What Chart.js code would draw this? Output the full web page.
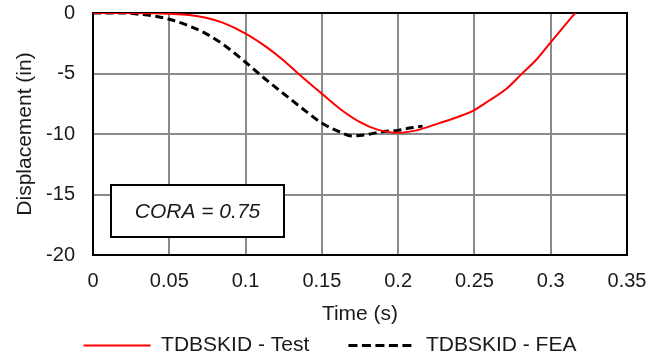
<!DOCTYPE html>
<html>
<head>
<meta charset="utf-8">
<script src="https://cdn.jsdelivr.net/npm/chart.js@4.4.1/dist/chart.umd.min.js"></script>
<style>
  html, body { margin: 0; padding: 0; background: #fff; }
  #wrap { width: 660px; height: 355px; }
</style>
</head>
<body>
<div id="wrap"><canvas id="chart" width="660" height="355"></canvas></div>
<script>
// values
var testTime = [0, 0.02, 0.04, 0.05, 0.063, 0.074, 0.085, 0.1, 0.114, 0.125, 0.135, 0.149, 0.162, 0.175, 0.186, 0.2, 0.212, 0.227, 0.24, 0.249, 0.26, 0.271, 0.281, 0.291, 0.299, 0.308, 0.316];
var testDisp = [0, 0, -0.02, -0.06, -0.16, -0.39, -0.8, -1.7, -2.84, -3.93, -5.06, -6.56, -7.93, -9.02, -9.62, -9.9, -9.7, -9.1, -8.55, -8.09, -7.21, -6.26, -5.03, -3.8, -2.57, -1.2, 0];

var feaTime = [0, 0.02, 0.031, 0.04, 0.05, 0.063, 0.074, 0.085, 0.1, 0.114, 0.125, 0.14, 0.149, 0.162, 0.17, 0.179, 0.19, 0.2, 0.2075, 0.216];
var feaDisp = [0, 0, -0.11, -0.25, -0.52, -1.07, -1.7, -2.57, -4.07, -5.57, -6.67, -8.17, -9.02, -9.84, -10.16, -10.06, -9.79, -9.7, -9.51, -9.35];

var seriesNames = ["TDBSKID - Test", "TDBSKID - FEA"];
var xTickLabels = ["0", "0.05", "0.1", "0.15", "0.2", "0.25", "0.3", "0.35"];
var yTickLabels = ["-20", "-15", "-10", "-5", "0"];
var coraText = "CORA = 0.75";

function toPoints(xs, ys) {
    return xs.map(function (x, i) { return { x: x, y: ys[i] }; });
}

var textColor = "#1a1a1a";
var gridColor = "#8a8a8a";

// black frame round the plot area
var framePlugin = {
    id: "frame",
    beforeDatasetsDraw: function (chart) {
        var a = chart.chartArea, ctx = chart.ctx;
        ctx.save();
        ctx.strokeStyle = "#000";
        ctx.lineWidth = 2;
        ctx.strokeRect(a.left, a.top, a.right - a.left, a.bottom - a.top);
        ctx.restore();
    }
};

// the CORA note box
var coraPlugin = {
    id: "cora",
    afterDatasetsDraw: function (chart) {
        var x = chart.scales.x, y = chart.scales.y, ctx = chart.ctx;
        var l = Math.round(x.getPixelForValue(0.0117));
        var r = Math.round(x.getPixelForValue(0.1253));
        var t = Math.round(y.getPixelForValue(-14.2));
        var b = Math.round(y.getPixelForValue(-18.55));
        ctx.save();
        ctx.fillStyle = "#fff";
        ctx.fillRect(l, t, r - l, b - t);
        ctx.strokeStyle = "#000";
        ctx.lineWidth = 2;
        ctx.strokeRect(l, t, r - l, b - t);
        ctx.fillStyle = textColor;
        ctx.font = "italic 21px 'Liberation Sans', Arial, sans-serif";
        ctx.textAlign = "center";
        ctx.textBaseline = "middle";
        ctx.fillText(coraText, (l + r) / 2, (t + b) / 2 + 1);
        ctx.restore();
    }
};

var ctx = document.getElementById("chart").getContext("2d");
new Chart(ctx, {
    type: "scatter",
    data: {
        datasets: [
            {
                label: seriesNames[0],
                data: toPoints(testTime, testDisp),
                showLine: true,
                borderColor: "#ff0000",
                backgroundColor: "#ff0000",
                borderWidth: 2,
                pointRadius: 0,
                cubicInterpolationMode: "monotone"
            },
            {
                label: seriesNames[1],
                data: toPoints(feaTime, feaDisp),
                showLine: true,
                borderColor: "#000000",
                backgroundColor: "#000000",
                borderWidth: 3,
                borderDash: [8, 4.5],
                pointRadius: 0,
                cubicInterpolationMode: "monotone"
            }
        ]
    },
    options: {
        responsive: false,
        animation: false,
        layout: { padding: { left: 0, right: 0, top: 13, bottom: -11 } },
        font: { family: "'Liberation Sans', Arial, sans-serif" },
        scales: {
            x: {
                type: "linear",
                min: 0,
                max: 0.35,
                afterFit: function (scale) {
                    scale.height = 70;
                    scale.paddingRight = 33;
                },
                ticks: {
                    stepSize: 0.05,
                    padding: 14,
                    color: textColor,
                    font: { size: 20 },
                    maxRotation: 0,
                    callback: function (v, i) { return xTickLabels[i]; }
                },
                grid: { color: gridColor, lineWidth: 2, drawTicks: false },
                border: { color: "#000", width: 2 },
                title: {
                    display: true,
                    text: "Time (s)",
                    color: textColor,
                    font: { size: 21, lineHeight: 1 },
                    padding: 0
                }
            },
            y: {
                type: "linear",
                min: -20,
                max: 0,
                afterFit: function (scale) {
                    scale.width = 93;
                    scale.paddingTop = 0;
                    scale.paddingBottom = 0;
                },
                ticks: {
                    stepSize: 5,
                    padding: 18,
                    color: textColor,
                    font: { size: 20 },
                    callback: function (v, i) { return yTickLabels[i]; }
                },
                grid: { color: gridColor, lineWidth: 2, drawTicks: false },
                border: { color: "#000", width: 2 },
                title: {
                    display: true,
                    text: "Displacement (in)",
                    color: textColor,
                    font: { size: 21 },
                    padding: { top: 13, bottom: 0 }
                }
            }
        },
        plugins: {
            legend: {
                position: "bottom",
                labels: {
                    usePointStyle: true,
                    pointStyle: "line",
                    pointStyleWidth: 67,
                    padding: 10,
                    color: textColor,
                    font: { size: 21 },
                    generateLabels: function (chart) {
                        var items = Chart.defaults.plugins.legend.labels.generateLabels(chart);
                        items.forEach(function (item, i) {
                            var ds = chart.data.datasets[i];
                            item.strokeStyle = ds.borderColor;
                            item.lineWidth = ds.borderWidth;
                            item.lineDash = ds.borderDash ? [9, 4.5] : [];
                        });
                        // wider gap after the first entry, as in the picture
                        items[0].text = items[0].text + "     ";
                        return items;
                    }
                }
            },
            tooltip: { enabled: false }
        }
    },
    plugins: [framePlugin, coraPlugin]
});
</script>
</body>
</html>
